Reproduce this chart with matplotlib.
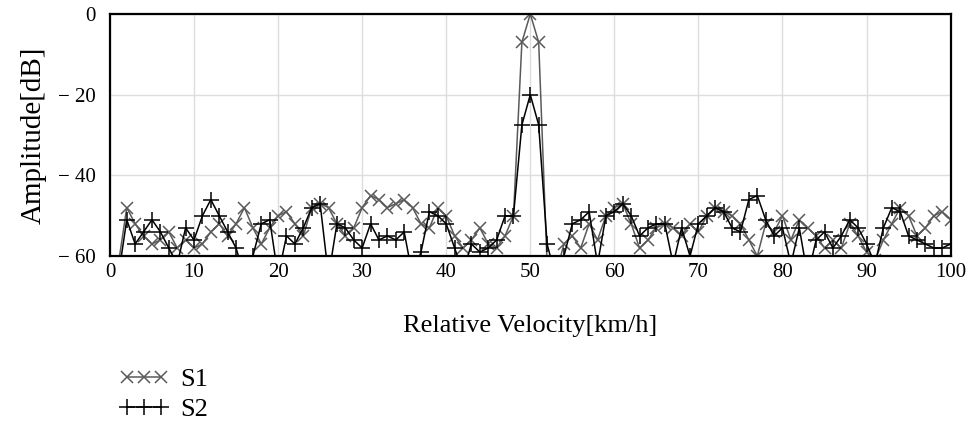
import matplotlib.pyplot as plt
import numpy as np

plt.rcParams['font.family'] = ['Liberation Serif', 'DejaVu Serif']

velocity = np.arange(0, 101)

s1 = [-65, -62, -48, -52, -55, -57, -56, -54, -58, -56,
      -58, -57, -54, -52, -55, -52, -48, -53, -57, -53,
      -50, -49, -52, -55, -48, -47, -48, -52, -55, -53,
      -48, -45, -46, -48, -47, -46, -48, -52, -53, -48,
      -50, -55, -58, -56, -53, -57, -58, -55, -50, -7,
      0, -7, -62, -65, -57, -55, -58, -52, -56, -50,
      -48, -47, -52, -58, -56, -53, -52, -53, -55, -52,
      -54, -50, -48, -49, -50, -52, -56, -60, -52, -54,
      -50, -56, -51, -53, -55, -58, -56, -58, -52, -55,
      -59, -61, -56, -52, -48, -50, -55, -53, -50, -49,
      -51]

s2 = [-65, -65, -51, -57, -54, -51, -54, -58, -62, -53,
      -56, -50, -46, -50, -54, -58, -65, -60, -52, -51,
      -65, -55, -57, -53, -48, -47, -65, -52, -53, -56,
      -58, -52, -56, -55, -56, -54, -65, -59, -49, -50,
      -52, -58, -64, -57, -59, -58, -56, -50, -50, -27.5,
      -20, -27.5, -57, -65, -60, -52, -51, -49, -62, -50,
      -49, -47, -50, -55, -53, -52, -52, -62, -53, -60,
      -52, -50, -48, -49, -53, -54, -46, -45, -51, -55,
      -53, -62, -53, -65, -56, -54, -58, -55, -51, -53,
      -57, -62, -53, -48, -49, -55, -56, -57, -58, -58,
      -57]

fig = plt.figure(figsize=(9.73, 4.24), dpi=100)
ax = fig.add_axes([0.113, 0.396, 0.864, 0.571])

ax.plot(velocity, s1, color='#5a5a5a', lw=1.1, marker='x', ms=9, mew=1.1, label='S1')
ax.plot(velocity, s2, color='black', lw=1.1, marker='+', ms=11, mew=1.1, label='S2')

ax.set_xlim(0, 100)
ax.set_ylim(-60, 0)
ax.set_xticks(np.arange(0, 101, 10))
ax.set_yticks([-60, -40, -20, 0])
ax.set_yticklabels(['\u2212 60', '\u2212 40', '\u2212 20', '0'])
ax.tick_params(length=0, labelsize=15)
ax.tick_params(axis='y', pad=10)
ax.tick_params(axis='x', pad=5)
ax.grid(True, color='#dddddd', lw=1)
ax.set_axisbelow(True)
for sp in ax.spines.values():
    sp.set_linewidth(1.6)

ax.set_xlabel('Relative Velocity[km/h]', fontsize=19, labelpad=24)
ax.set_ylabel('Amplitude[dB]', fontsize=21, labelpad=8)

fig.legend(loc='lower left', bbox_to_anchor=(0.098, -0.05), frameon=False,
           numpoints=3, fontsize=19, handlelength=1.9, handletextpad=0.4,
           labelspacing=0.25)

fig.savefig('out.png', dpi=100)
